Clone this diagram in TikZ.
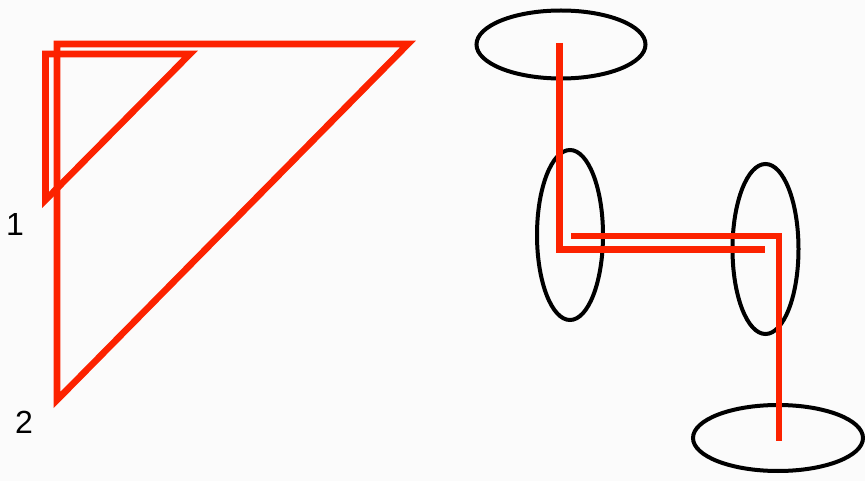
\documentclass[tikz,border=0pt]{standalone}
\usepackage{fontspec}
\setmainfont{Liberation Sans}
\usetikzlibrary{shapes.geometric}
\definecolor{redline}{RGB}{252,34,0}
\definecolor{bgcol}{RGB}{251,251,251}
\tikzset{
  redpath/.style={draw=redline, line width=6.6pt, line join=miter, line cap=butt},
  ring/.style={draw=black, line width=4pt, ellipse, inner sep=0pt, minimum width=#1},
  lbl/.style={font=\fontsize{32}{32}\selectfont, inner sep=0pt}
}
\begin{document}
\begin{tikzpicture}[x=1pt,y=-1pt]
\fill[bgcol] (0,0) rectangle (865,481);
\useasboundingbox (0,0) rectangle (865,481);
% triangles
\coordinate (bA) at (57,44);
\coordinate (bB) at (408,44);
\coordinate (bC) at (57,400);
\draw[redpath] (bC) -- (bA) -- (bB) -- cycle;
\coordinate (sA) at (45.5,54);
\coordinate (sB) at (190,54);
\coordinate (sC) at (45.5,200);
\draw[redpath] (sC) -- (sA) -- (sB) -- cycle;
\node[lbl] (l1) at (15,224) {1};
\node[lbl] (l2) at (24,422) {2};
% ellipses
\node[ring, minimum width=169pt, minimum height=68pt] (e1) at (561,44.5) {};
\node[ring, minimum width=66pt, minimum height=170pt] (e2) at (570,235) {};
\node[ring, minimum width=66pt, minimum height=170pt] (e3) at (765.5,249) {};
\node[ring, minimum width=170pt, minimum height=66pt] (e4) at (778,438) {};
% red paths
\coordinate (p1s) at (559.5,43);
\coordinate (p1c) at (559.5,249.5);
\coordinate (p1e) at (765,249.5);
\draw[redpath] (p1s) -- (p1c) -- (p1e);
\coordinate (p2s) at (571,236);
\coordinate (p2c) at (779,236);
\coordinate (p2e) at (779,441);
\draw[redpath] (p2s) -- (p2c) -- (p2e);
\end{tikzpicture}
\end{document}
